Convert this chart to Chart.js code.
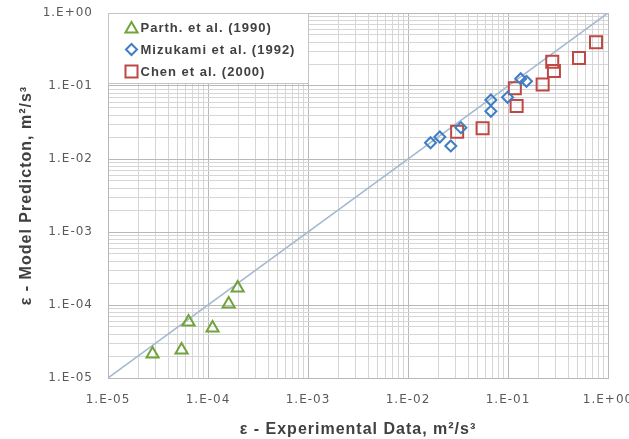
<!DOCTYPE html>
<html><head><meta charset="utf-8">
<script src="https://cdn.jsdelivr.net/npm/chart.js@4/dist/chart.umd.min.js"></script>
<style>html,body{margin:0;padding:0;background:#fff}canvas{display:block}</style>
</head><body>
<canvas id="c" width="629" height="439"></canvas>
<script>
// ---- data ----
const seriesNames = ['Parth. et al. (1990)', 'Mizukami et al. (1992)', 'Chen et al. (2000)'];
const parthX = [2.79e-5, 5.44e-5, 6.39e-5, 1.11e-4, 1.61e-4, 1.98e-4];
const parthY = [2.13e-5, 2.42e-5, 5.85e-5, 4.84e-5, 1.03e-4, 1.71e-4];
const mizuX = [0.0168, 0.0208, 0.0268, 0.0338, 0.0674, 0.0674, 0.099, 0.134, 0.153];
const mizuY = [0.0167, 0.0200, 0.0151, 0.0269, 0.0643, 0.0450, 0.070, 0.126, 0.116];
const chenX = [0.0310, 0.0557, 0.117, 0.122, 0.222, 0.277, 0.288, 0.513, 0.759];
const chenY = [0.0237, 0.0264, 0.0930, 0.0532, 0.105, 0.215, 0.160, 0.242, 0.397];
const lineX = [1e-5, 1];
const lineY = [1e-5, 1];
const tickLabels = ['1.E-05', '1.E-04', '1.E-03', '1.E-02', '1.E-01', '1.E+00'];
const decades = [-5, -4, -3, -2, -1, 0];
const xTitle = 'ε - Experimental Data, m²/s³';
const yTitle = 'ε - Model Predicton, m²/s³';

// ---- helpers ----
const toPts = (xs, ys) => xs.map((x, i) => ({x: x, y: ys[i]}));
const isMajor = v => Math.abs(Math.log10(v) - Math.round(Math.log10(v))) < 1e-6;
const gridVals = [];
decades.forEach(d => {
  if (d < 0) { for (let m = 1; m <= 9; m++) gridVals.push(Number((m * Math.pow(10, d)).toPrecision(6))); }
  else gridVals.push(Math.pow(10, d));
});
const labelFor = v => isMajor(v) ? tickLabels[decades.indexOf(Math.round(Math.log10(v)))] : '';
const gridColor = c => (c.tick && isMajor(c.tick.value)) ? '#b8b8b8' : '#d6d6d6';

const tickFont = {family: 'DejaVu Sans', size: 12};
const titleFont = {family: 'Liberation Sans', size: 16, weight: 'bold'};

const spacingPlugin = {
  id: 'spacing',
  beforeUpdate(ch) { ch.ctx.letterSpacing = '1px'; },
  beforeDraw(ch) { ch.ctx.letterSpacing = '1px'; }
};

function shape(ctx, style, x, y, r) {
  ctx.beginPath();
  if (style === 'triangle') {
    ctx.moveTo(x, y - r);
    ctx.lineTo(x + 0.866 * r, y + 0.5 * r);
    ctx.lineTo(x - 0.866 * r, y + 0.5 * r);
    ctx.closePath();
  } else if (style === 'rectRot') {
    ctx.moveTo(x - r, y); ctx.lineTo(x, y - r); ctx.lineTo(x + r, y); ctx.lineTo(x, y + r);
    ctx.closePath();
  } else {
    const s = Math.SQRT1_2 * r;
    ctx.rect(x - s, y - s, 2 * s, 2 * s);
  }
  ctx.stroke();
}

const legendBox = {
  id: 'legendBox',
  afterDatasetsDraw(ch) {
    const ctx = ch.ctx, a = ch.chartArea;
    const x0 = a.left + 0.5, y0 = a.top + 0.5, w = 200, h = 70;
    ctx.save();
    ctx.fillStyle = '#ffffff';
    ctx.fillRect(x0, y0, w, h);
    ctx.strokeStyle = '#c4c4c4';
    ctx.lineWidth = 1;
    ctx.strokeRect(x0, y0, w, h);
    ctx.letterSpacing = '1px';
    ch.data.datasets.forEach((ds, i) => {
      if (i > 2) return;
      const cy = y0 + 14 + i * 22;
      ctx.strokeStyle = ds.borderColor;
      ctx.lineWidth = 2;
      shape(ctx, ds.pointStyle, x0 + 23, cy + (ds.pointStyle === 'triangle' ? 1.5 : 0), ds.pointRadius);
      ctx.fillStyle = '#404040';
      ctx.font = 'bold 13px "Liberation Sans"';
      ctx.textBaseline = 'middle';
      ctx.textAlign = 'left';
      ctx.fillText(ds.label, x0 + 32, cy + 1);
    });
    ctx.restore();
  }
};

new Chart(document.getElementById('c'), {
  type: 'scatter',
  data: {
    datasets: [
      {label: seriesNames[0], data: toPts(parthX, parthY), pointStyle: 'triangle', pointRadius: 7,
       borderColor: '#72a33a', backgroundColor: 'rgba(0,0,0,0)', borderWidth: 2},
      {label: seriesNames[1], data: toPts(mizuX, mizuY), pointStyle: 'rectRot', pointRadius: 5.5,
       borderColor: '#3f7dc4', backgroundColor: 'rgba(0,0,0,0)', borderWidth: 2},
      {label: seriesNames[2], data: toPts(chenX, chenY), pointStyle: 'rect', pointRadius: 8.5,
       borderColor: '#bf4845', backgroundColor: 'rgba(0,0,0,0)', borderWidth: 2},
      {label: 'y = x', data: toPts(lineX, lineY), showLine: true, pointRadius: 0,
       borderColor: '#a3b8d1', borderWidth: 1.5, backgroundColor: 'rgba(0,0,0,0)'}
    ]
  },
  options: {
    responsive: false,
    animation: false,
    devicePixelRatio: 1,
    layout: {padding: {left: 13, right: 21, top: 13, bottom: 0}},
    plugins: {legend: {display: false}, tooltip: {enabled: false}},
    scales: {
      x: {
        type: 'logarithmic', min: 1e-5, max: 1,
        afterBuildTicks: s => { s.ticks = gridVals.map(v => ({value: v, major: isMajor(v)})); },
        afterFit: s => { s.height = 61; s.paddingLeft = 0; s.paddingRight = 0; },
        ticks: {autoSkip: false, maxRotation: 0, minRotation: 0, padding: 15, color: '#595959', font: tickFont,
                callback: v => labelFor(v)},
        grid: {drawTicks: false, color: gridColor, lineWidth: 1},
        border: {color: '#b8b8b8'},
        title: {display: true, text: xTitle, color: '#404040', font: titleFont, padding: {top: 4, bottom: 0}}
      },
      y: {
        type: 'logarithmic', min: 1e-5, max: 1,
        afterBuildTicks: s => { s.ticks = gridVals.map(v => ({value: v, major: isMajor(v)})); },
        afterFit: s => { s.width = 95; s.paddingTop = 0; s.paddingBottom = 0; },
        ticks: {autoSkip: false, padding: 15, color: '#595959', font: tickFont,
                callback: v => labelFor(v)},
        grid: {drawTicks: false, color: gridColor, lineWidth: 1},
        border: {color: '#b8b8b8'},
        title: {display: true, text: yTitle, color: '#404040', font: titleFont, padding: {top: 4, bottom: 4}}
      }
    }
  },
  plugins: [spacingPlugin, legendBox]
});
</script>
</body></html>
